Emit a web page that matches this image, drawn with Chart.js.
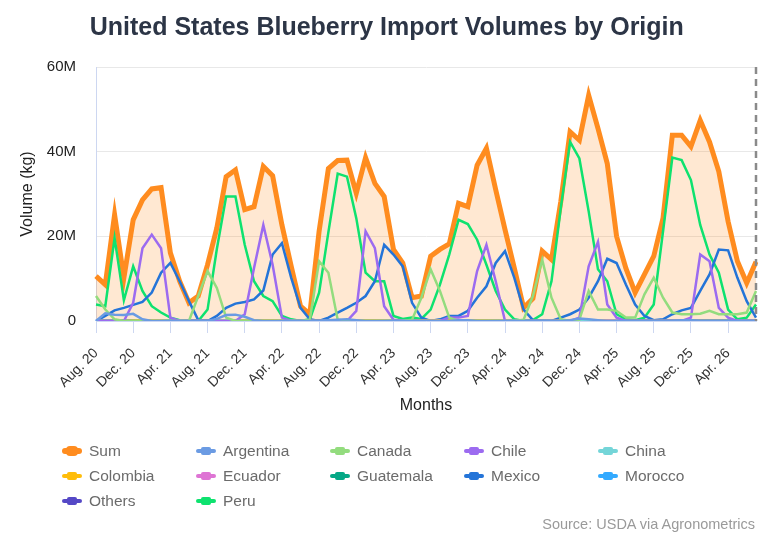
<!DOCTYPE html>
<html>
<head>
<meta charset="utf-8">
<script src="https://cdn.jsdelivr.net/npm/chart.js@4.4.1/dist/chart.umd.min.js"></script>
<style>
  html, body { margin: 0; padding: 0; background: #fff; }
  #wrap { position: relative; width: 768px; height: 538px; font-family: "Liberation Sans", Arial, Helvetica, sans-serif; }
  #box { position: absolute; left: 0; top: 0; width: 768px; height: 429px; }
  #legend { position: absolute; left: 0; top: 0; width: 768px; height: 538px; pointer-events: none; }
  .item { position: absolute; height: 20px; line-height: 20px; font-size: 15.5px; color: #6b6b6b; white-space: nowrap; }
  .icon { position: absolute; left: 0; top: 50%; width: 20px; height: 4px; margin-top: -2px; border-radius: 2px; }
  .icon span { position: absolute; left: 5px; top: -2px; width: 10px; height: 8px; border-radius: 2px; background: inherit; }
  .item.sum .icon { height: 6px; margin-top: -3px; border-radius: 3px; }
  .item.sum .icon span { left: 4px; top: -2px; width: 12px; height: 10px; border-radius: 4px; }
  .label { position: absolute; left: 27px; top: 0; }
  #source { position: absolute; right: 13px; top: 516px; font-size: 14.5px; color: #9a9a9a; }
</style>
</head>
<body>
<div id="wrap">
  <div id="box"><canvas id="chart"></canvas></div>
  <div id="legend"></div>
  <div id="source">Source: USDA via Agronometrics</div>
</div>
<script>
// ============================================
// DATA (million kg per month, Aug 2020 - Jul 2026)
// ============================================
const months = [
  'Aug. 20', 'Sep. 20', 'Oct. 20', 'Nov. 20', 'Dec. 20', 'Jan. 21', 'Feb. 21', 'Mar. 21', 'Apr. 21', 'May 21', 'Jun. 21', 'Jul. 21',
  'Aug. 21', 'Sep. 21', 'Oct. 21', 'Nov. 21', 'Dec. 21', 'Jan. 22', 'Feb. 22', 'Mar. 22', 'Apr. 22', 'May 22', 'Jun. 22', 'Jul. 22',
  'Aug. 22', 'Sep. 22', 'Oct. 22', 'Nov. 22', 'Dec. 22', 'Jan. 23', 'Feb. 23', 'Mar. 23', 'Apr. 23', 'May 23', 'Jun. 23', 'Jul. 23',
  'Aug. 23', 'Sep. 23', 'Oct. 23', 'Nov. 23', 'Dec. 23', 'Jan. 24', 'Feb. 24', 'Mar. 24', 'Apr. 24', 'May 24', 'Jun. 24', 'Jul. 24',
  'Aug. 24', 'Sep. 24', 'Oct. 24', 'Nov. 24', 'Dec. 24', 'Jan. 25', 'Feb. 25', 'Mar. 25', 'Apr. 25', 'May 25', 'Jun. 25', 'Jul. 25',
  'Aug. 25', 'Sep. 25', 'Oct. 25', 'Nov. 25', 'Dec. 25', 'Jan. 26', 'Feb. 26', 'Mar. 26', 'Apr. 26', 'May 26', 'Jun. 26', 'Jul. 26'
];

const sum = [
  10.6, 8.6, 25.1, 10.2, 23.9, 28.6, 31.2, 31.5, 16.1, 9.4, 4.3, 5.9,
  13.3, 22.0, 34.1, 35.7, 26.3, 27.0, 36.5, 34.3, 22.7, 12.9, 3.5, 1.6,
  21.2, 36.0, 37.9, 38.0, 30.2, 38.6, 32.5, 29.4, 16.9, 13.7, 5.5, 5.9,
  15.3, 16.9, 18.2, 27.8, 27.0, 36.8, 40.8, 31.0, 21.6, 12.5, 3.1, 5.3,
  16.5, 14.5, 28.2, 44.7, 42.7, 53.3, 45.5, 37.2, 20.0, 12.5, 6.7, 11.0,
  15.3, 24.3, 43.9, 43.9, 41.2, 47.4, 42.3, 35.3, 23.5, 14.1, 9.0, 14.0
];

const argentina = [
  0, 1.8, 1.5, 1.4, 1.7, 0.4, 0, 0, 0, 0, 0, 0,
  0, 0.5, 1.4, 1.5, 1.0, 0.2, 0, 0, 0, 0, 0, 0,
  0, 0.2, 0.3, 0.4, 0.2, 0, 0, 0, 0, 0, 0, 0,
  0, 0, 0, 0.2, 0.2, 0, 0, 0, 0, 0, 0, 0,
  0, 0, 0, 0.2, 0.6, 0.4, 0.2, 0, 0, 0, 0, 0,
  0, 0, 0, 0.2, 0.2, 0, 0, 0, 0, 0, 0, 0
];

const canada = [
  5.9, 2.7, 0.4, 0, 0, 0, 0, 0, 0, 0, 0, 5.9,
  11.8, 7.8, 0.8, 0, 0, 0, 0, 0, 0, 0, 0, 0.3,
  14.1, 11.4, 0.3, 0, 0, 0, 0, 0, 0, 0, 0.3, 5.5,
  12.2, 7.1, 0.8, 0, 0, 0, 0, 0, 0, 0, 0.3, 5.9,
  14.5, 5.5, 0.4, 0, 0.3, 7.1, 2.7, 2.7, 2.4, 0.8, 0.8, 6.3,
  10.2, 5.5, 2.0, 1.6, 1.6, 1.7, 2.4, 1.6, 1.6, 1.6, 2.0, 7.1
];

const chile = [
  0, 0, 0, 0, 4.3, 17.2, 20.4, 17.2, 0.8, 0, 0, 0,
  0, 0, 0, 0, 1.6, 12.5, 22.7, 13.3, 0.8, 0, 0, 0,
  0, 0, 0, 0, 2.4, 21.2, 17.2, 3.5, 0.3, 0, 0, 0,
  0, 0, 0.8, 0.8, 1.2, 11.8, 18.0, 9.4, 0, 0, 0, 0,
  0, 0, 0, 0, 0.8, 12.9, 18.7, 3.9, 0.8, 0, 0, 0,
  0, 0, 0, 0, 0.8, 15.7, 14.1, 3.1, 0.8, 0, 0, 0
];

const china = [
  0, 0, 0, 0, 0, 0, 0, 0, 0, 0, 0, 0,
  0, 0, 0, 0, 0, 0, 0, 0, 0, 0, 0, 0,
  0, 0, 0, 0, 0, 0, 0, 0, 0, 0, 0, 0,
  0, 0, 0, 0, 0, 0, 0, 0, 0, 0, 0, 0,
  0, 0, 0, 0, 0, 0, 0, 0, 0, 0, 0, 0,
  0, 0, 0, 0, 0, 0, 0, 0, 0, 0, 0, 0
];

const colombia = [
  0, 0, 0, 0, 0.1, 0.2, 0.2, 0.1, 0, 0, 0, 0,
  0, 0, 0, 0, 0.1, 0.2, 0.2, 0.2, 0.1, 0, 0, 0,
  0, 0, 0.1, 0.2, 0.2, 0.2, 0.2, 0.1, 0, 0, 0, 0.1,
  0.1, 0.2, 0.2, 0.2, 0.2, 0.2, 0.2, 0.1, 0.1, 0, 0, 0,
  0, 0, 0.1, 0.1, 0.1, 0.1, 0.1, 0, 0, 0, 0, 0,
  0, 0, 0, 0, 0, 0, 0, 0, 0, 0, 0, 0
];

const ecuador = [
  0, 0, 0, 0, 0, 0, 0, 0, 0, 0, 0, 0,
  0, 0, 0, 0, 0, 0, 0, 0, 0, 0, 0, 0,
  0, 0, 0, 0, 0, 0, 0, 0, 0, 0, 0, 0,
  0, 0, 0, 0, 0, 0, 0, 0, 0, 0, 0, 0,
  0, 0, 0, 0, 0, 0.1, 0.2, 0.2, 0.1, 0, 0, 0,
  0, 0, 0, 0, 0, 0, 0, 0, 0, 0, 0, 0
];

const guatemala = [
  0, 0, 0, 0, 0, 0, 0, 0, 0, 0, 0, 0,
  0, 0, 0, 0, 0, 0, 0, 0, 0, 0, 0, 0,
  0, 0, 0, 0, 0, 0, 0, 0, 0, 0, 0, 0,
  0, 0, 0, 0, 0, 0, 0, 0, 0, 0, 0, 0,
  0, 0, 0, 0, 0, 0, 0, 0, 0, 0, 0, 0,
  0, 0, 0, 0, 0, 0, 0, 0, 0, 0, 0, 0
];

const mexico = [
  0, 1.2, 2.5, 3.1, 3.8, 4.5, 6.7, 11.4, 13.7, 9.4, 4.7, 0.2,
  0, 1.2, 3.1, 4.1, 4.5, 5.1, 7.2, 15.7, 18.4, 10.2, 3.1, 0.4,
  0, 0.8, 2.0, 3.1, 4.3, 5.9, 9.4, 18.0, 15.7, 12.9, 4.3, 0.8,
  0, 0.4, 1.2, 1.2, 2.4, 5.5, 8.2, 13.7, 16.5, 10.2, 2.7, 0.2,
  0, 0, 0.8, 1.6, 2.7, 5.5, 9.4, 14.7, 13.7, 8.6, 3.9, 1.2,
  0.2, 0.4, 1.6, 2.5, 3.1, 7.1, 11.0, 16.9, 16.7, 10.2, 4.7, 0.8
];

const morocco = [
  0, 0, 0, 0, 0, 0, 0, 0.1, 0.2, 0.1, 0, 0,
  0, 0, 0, 0, 0, 0, 0, 0, 0.1, 0.1, 0, 0,
  0, 0.1, 0, 0, 0, 0, 0, 0, 0.1, 0.2, 0.1, 0,
  0, 0, 0, 0, 0, 0, 0, 0, 0.1, 0.2, 0.1, 0,
  0.1, 0, 0, 0, 0, 0, 0, 0.1, 0.1, 0, 0, 0,
  0, 0, 0, 0, 0, 0, 0, 0, 0.1, 0.1, 0, 0
];

const others = [
  0.1, 0.1, 0.1, 0.1, 0.1, 0, 0, 0, 0, 0.1, 0.1, 0.1,
  0.1, 0, 0, 0, 0, 0, 0, 0, 0, 0, 0.1, 0.1,
  0.1, 0, 0, 0, 0, 0, 0, 0, 0, 0, 0, 0,
  0, 0, 0, 0, 0, 0, 0, 0, 0, 0, 0, 0,
  0, 0, 0, 0, 0, 0, 0, 0, 0, 0.1, 0.1, 0.1,
  0.1, 0.1, 0.1, 0.1, 0.1, 0.1, 0.1, 0.1, 0.1, 0.1, 0.1, 0.1
];

const peru = [
  3.9, 3.5, 19.6, 4.9, 12.9, 7.1, 3.5, 2.0, 0.8, 0.2, 0, 0,
  2.7, 17.0, 29.4, 29.4, 18.0, 9.4, 5.9, 4.7, 1.2, 0.4, 0, 0.4,
  6.7, 21.0, 34.8, 34.1, 24.3, 11.4, 9.4, 9.4, 1.2, 0.5, 0.8, 0.5,
  2.7, 8.6, 15.7, 23.9, 22.9, 19.2, 13.3, 7.1, 2.7, 0.4, 0, 0.2,
  1.6, 9.4, 26.7, 42.3, 38.4, 25.9, 12.2, 9.4, 1.6, 0.4, 0.2, 0.8,
  3.9, 21.2, 38.6, 38.0, 33.3, 22.7, 15.7, 11.4, 2.7, 0.4, 0.8, 3.9
];

const FONT = '"Liberation Sans", Arial, Helvetica, sans-serif';

// series: name, values, colour
const series = [
  ['Sum', sum, '#ff8c1f'],
  ['Argentina', argentina, '#6b9be3'],
  ['Canada', canada, '#93dc7e'],
  ['Chile', chile, '#9c6bf0'],
  ['China', china, '#74d5d8'],
  ['Colombia', colombia, '#ffbd0a'],
  ['Ecuador', ecuador, '#de74d4'],
  ['Guatemala', guatemala, '#05a886'],
  ['Mexico', mexico, '#2474d8'],
  ['Morocco', morocco, '#33aaff'],
  ['Others', others, '#5548c6'],
  ['Peru', peru, '#0ee26f']
];

// ============================================
// CHART
// ============================================
const datasets = series.map(([name, values, color], i) => {
    const isSum = i === 0;
    return {
        label: name,
        data: values,
        borderColor: color,
        backgroundColor: isSum ? 'rgba(255, 140, 31, 0.2)' : color,
        borderWidth: isSum ? 5 : 2.5,
        fill: isSum ? 'origin' : false,
        pointRadius: 0,
        tension: 0,
        order: isSum ? 1 : 0
    };
});

// dashed marker at the last month
const endLine = {
    id: 'endLine',
    afterDatasetsDraw(chart) {
        const { ctx, chartArea } = chart;
        const x = chart.scales.x.getPixelForValue(months.length - 1);
        ctx.save();
        ctx.strokeStyle = '#8a8a8a';
        ctx.lineWidth = 2.5;
        ctx.setLineDash([7, 5]);
        ctx.beginPath();
        ctx.moveTo(x, chartArea.top);
        ctx.lineTo(x, chartArea.bottom);
        ctx.stroke();
        ctx.restore();
    }
};

const chart = new Chart(document.getElementById('chart'), {
    type: 'line',
    data: { labels: months, datasets: datasets },
    options: {
        responsive: true,
        maintainAspectRatio: false,
        animation: false,
        layout: { padding: { left: 17.5, right: 12, top: 8, bottom: 10 } },
        plugins: {
            legend: { display: false },
            tooltip: { enabled: false },
            title: {
                display: true,
                text: 'United States Blueberry Import Volumes by Origin',
                color: '#2c3546',
                font: { family: FONT, size: 25, weight: 'bold' },
                padding: { top: 5, bottom: 24 }
            }
        },
        scales: {
            x: {
                grid: { drawOnChartArea: false, color: '#cdd7f1', tickLength: 12 },
                border: { color: '#cdd7f1' },
                afterBuildTicks: (scale) => {
                    scale.ticks = scale.ticks.filter(t => t.value % 4 === 0);
                },
                // let the rotated labels hang past the plot edges, keep a fixed axis height
                afterFit: (scale) => {
                    scale.paddingLeft = 0;
                    scale.paddingRight = 0;
                    scale.height = 98;
                },
                ticks: {
                    autoSkip: false,
                    minRotation: 45,
                    maxRotation: 45,
                    color: '#333',
                    padding: 12,
                    font: { family: FONT, size: 14 }
                },
                title: {
                    display: true,
                    text: 'Months',
                    color: '#222',
                    font: { family: FONT, size: 16 },
                    padding: { top: 8, bottom: 4 }
                }
            },
            y: {
                min: 0,
                max: 60,
                grid: { color: '#e8e8e8', drawTicks: false },
                border: { color: '#cdd7f1' },
                afterFit: (scale) => {
                    scale.width = 78.5;
                },
                ticks: {
                    stepSize: 20,
                    padding: 20,
                    color: '#222',
                    font: { family: FONT, size: 15 },
                    callback: v => v === 0 ? '0' : v + 'M'
                },
                title: {
                    display: true,
                    text: 'Volume (kg)',
                    color: '#222',
                    font: { family: FONT, size: 16 },
                    padding: { top: 0, bottom: 10 }
                }
            }
        }
    },
    plugins: [endLine]
});

// ============================================
// LEGEND (grid of five columns)
// ============================================
const legendEl = document.getElementById('legend');
const colX = [62, 196, 330, 464, 598];
const rowY = [441, 466, 491];
series.forEach(([name, , color], i) => {
    const item = document.createElement('div');
    item.className = 'item' + (i === 0 ? ' sum' : '');
    item.style.left = colX[i % 5] + 'px';
    item.style.top = rowY[Math.floor(i / 5)] + 'px';
    item.innerHTML = '<div class="icon" style="background:' + color + '"><span></span></div>' +
        '<div class="label">' + name + '</div>';
    legendEl.appendChild(item);
});
</script>
</body>
</html>
